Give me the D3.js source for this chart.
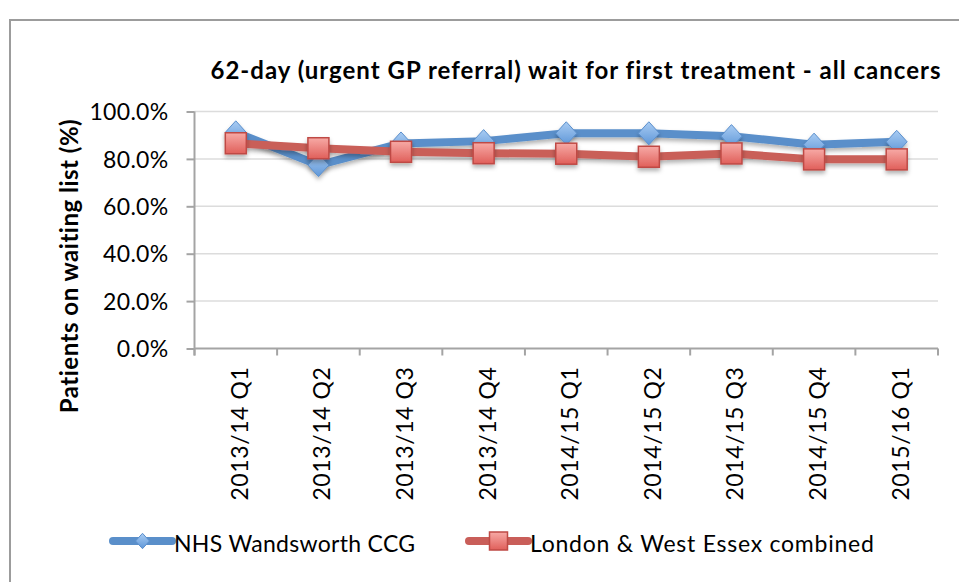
<!DOCTYPE html>
<html>
<head>
<meta charset="utf-8">
<script src="https://cdn.jsdelivr.net/npm/d3@7"></script>
<style>
  html, body { margin: 0; padding: 0; background: #fff; }
  svg { display: block; }
  text { font-family: Lato, "Open Sans", sans-serif; fill: #000; }
</style>
</head>
<body>
<svg id="chart" width="959" height="582"></svg>
<script>
const categories = ["2013/14 Q1", "2013/14 Q2", "2013/14 Q3", "2013/14 Q4", "2014/15 Q1", "2014/15 Q2", "2014/15 Q3", "2014/15 Q4", "2015/16 Q1"];
const wandsworth = [91.2, 77.4, 86.5, 87.5, 90.8, 90.8, 89.6, 86.0, 87.2];
const londonWestEssex = [86.6, 84.5, 83.0, 82.4, 82.2, 80.9, 82.3, 79.8, 79.8];
const yTicks = [0, 20, 40, 60, 80, 100];
const seriesNames = ["NHS Wandsworth CCG", "London & West Essex combined"];
const titleText = "62-day (urgent GP referral) wait for first treatment - all cancers";
const yTitleText = "Patients on waiting list (%)";

const svg = d3.select("#chart");
const defs = svg.append("defs");

const shadow = defs.append("filter").attr("id", "shadow")
  .attr("x", "-30%").attr("y", "-30%").attr("width", "160%").attr("height", "190%");
shadow.append("feDropShadow").attr("dx", 0).attr("dy", 3).attr("stdDeviation", 2)
  .attr("flood-color", "#000").attr("flood-opacity", 0.3);

const gBlue = defs.append("linearGradient").attr("id", "gBlue").attr("x1", 0).attr("y1", 0).attr("x2", 0).attr("y2", 1);
gBlue.append("stop").attr("offset", "0%").attr("stop-color", "#a9ccf3");
gBlue.append("stop").attr("offset", "100%").attr("stop-color", "#5f97d8");
const gRed = defs.append("linearGradient").attr("id", "gRed").attr("x1", 0).attr("y1", 0).attr("x2", 0).attr("y2", 1);
gRed.append("stop").attr("offset", "0%").attr("stop-color", "#f7aaa6");
gRed.append("stop").attr("offset", "100%").attr("stop-color", "#e05f5a");

// outer frame
svg.append("rect").attr("x", 10).attr("y", 20).attr("width", 1000).attr("height", 620)
  .attr("fill", "none").attr("stroke", "#9c9c9c").attr("stroke-width", 2);

const plotLeft = 194.5, plotRight = 938, plotTop = 111.5, plotBottom = 348.5;

const x = d3.scaleBand().domain(categories).range([plotLeft, plotRight]).padding(0);
const y = d3.scaleLinear().domain([0, 100]).range([plotBottom, plotTop]);

// gridlines
svg.append("g").selectAll("line").data(yTicks.filter(d => d > 0)).join("line")
  .attr("x1", plotLeft).attr("x2", plotRight)
  .attr("y1", d => y(d)).attr("y2", d => y(d))
  .attr("stroke", "#dcdcdc").attr("stroke-width", 1.5);

// y axis
const yAxis = svg.append("g").attr("transform", `translate(${plotLeft},0)`)
  .call(d3.axisLeft(y).tickValues(yTicks).tickSize(8).tickPadding(18).tickFormat(d => d.toFixed(1) + "%"));
yAxis.select(".domain").attr("stroke", "#a4a4a4").attr("stroke-width", 2)
  .attr("d", `M0,${plotTop}V${plotBottom + 7}`);
yAxis.selectAll(".tick line").attr("stroke", "#a4a4a4").attr("stroke-width", 2);
yAxis.selectAll(".tick text").style("font-size", "23px").style("letter-spacing", "0.3px").attr("dy", "0.36em");

// x axis
const xAxis = svg.append("g").attr("transform", `translate(0,${plotBottom})`)
  .call(d3.axisBottom(x).tickSize(0).tickPadding(0));
xAxis.select(".domain").remove();
xAxis.append("line").attr("x1", plotLeft).attr("x2", plotRight).attr("y1", 0).attr("y2", 0)
  .attr("stroke", "#a4a4a4").attr("stroke-width", 2);
xAxis.selectAll(".bnd").data(d3.range(categories.length + 1)).join("line")
  .attr("class", "bnd")
  .attr("x1", i => i < categories.length ? x(categories[i]) : plotRight)
  .attr("x2", i => i < categories.length ? x(categories[i]) : plotRight)
  .attr("y1", 0).attr("y2", 7)
  .attr("stroke", "#a4a4a4").attr("stroke-width", 2);
xAxis.selectAll(".tick text")
  .style("font-size", "23px")
  .style("letter-spacing", "0.6px")
  .attr("text-anchor", "end")
  .attr("transform", "translate(12,18) rotate(-90)")
  .attr("dy", "0");

// title
svg.append("text").attr("x", 576).attr("y", 79).attr("text-anchor", "middle")
  .style("font-size", "24px").style("font-weight", "bold").style("letter-spacing", "1px").text(titleText);

// y title
svg.append("text").attr("transform", "translate(78,266) rotate(-90)").attr("text-anchor", "middle")
  .style("font-size", "24px").style("font-weight", "bold").style("letter-spacing", "0.5px").text(yTitleText);

const line = d3.line().x((d, i) => x(categories[i]) + x.bandwidth() / 2).y(d => y(d));

const diamond = (r) => `M0,${-r * 1.1}L${r},0L0,${r * 1.1}L${-r},0Z`;

function drawSeries(vals, color, kind) {
  const g = svg.append("g");
  g.append("path").datum(vals).attr("d", line)
    .attr("fill", "none").attr("stroke", color).attr("stroke-width", 8)
    .attr("stroke-linejoin", "round").attr("filter", "url(#shadow)");
  const m = g.selectAll(".m").data(vals).join("g")
    .attr("transform", (d, i) => `translate(${x(categories[i]) + x.bandwidth() / 2},${y(d)})`)
    .attr("filter", "url(#shadow)");
  if (kind === "diamond") {
    m.append("path").attr("d", diamond(10.5)).attr("fill", "url(#gBlue)")
      .attr("stroke", "#5b8fcc").attr("stroke-width", 1);
  } else {
    m.append("rect").attr("x", -10.5).attr("y", -10.5).attr("width", 21).attr("height", 21)
      .attr("fill", "url(#gRed)").attr("stroke", "#bf4a45").attr("stroke-width", 1.5);
  }
}
drawSeries(wandsworth, "#5a8fca", "diamond");
drawSeries(londonWestEssex, "#c95e59", "square");

// legend
const legend = svg.append("g");
const legendItems = [
  { name: seriesNames[0], x0: 113, x1: 172, color: "#5a8fca", kind: "diamond", tx: 174, ls: 0.3 },
  { name: seriesNames[1], x0: 469, x1: 528, color: "#c95e59", kind: "square", tx: 530, ls: 0.75 }
];
legendItems.forEach(it => {
  legend.append("line").attr("x1", it.x0).attr("x2", it.x1).attr("y1", 541).attr("y2", 541)
    .attr("stroke", it.color).attr("stroke-width", 8).attr("stroke-linecap", "round");
  const mx = (it.x0 + it.x1) / 2;
  if (it.kind === "diamond") {
    legend.append("path").attr("transform", `translate(${mx},541)`).attr("d", diamond(7))
      .attr("fill", "url(#gBlue)").attr("stroke", "#5b8fcc").attr("stroke-width", 1);
  } else {
    legend.append("rect").attr("x", mx - 9).attr("y", 532).attr("width", 18).attr("height", 18)
      .attr("fill", "url(#gRed)").attr("stroke", "#bf4a45").attr("stroke-width", 1.5);
  }
  legend.append("text").attr("x", it.tx).attr("y", 552).style("font-size", "23px")
    .style("letter-spacing", it.ls + "px").text(it.name);
});
</script>
</body>
</html>
